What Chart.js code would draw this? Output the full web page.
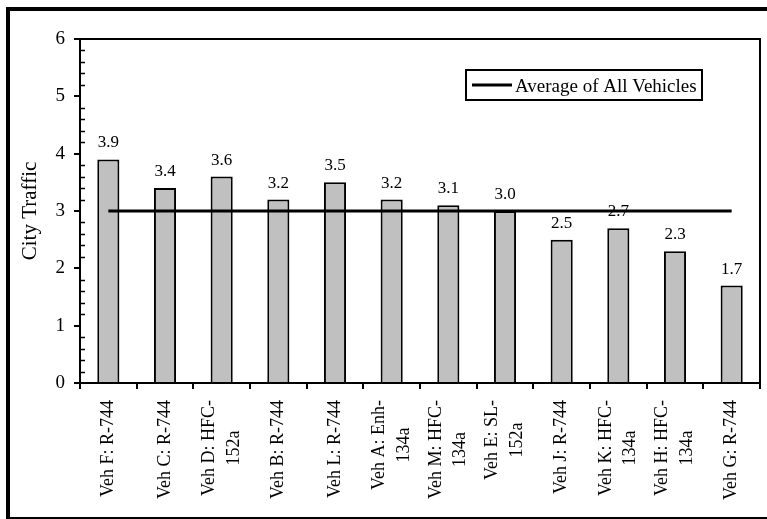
<!DOCTYPE html>
<html>
<head>
<meta charset="utf-8">
<title>City Traffic</title>
<script src="https://cdn.jsdelivr.net/npm/chart.js@4.4.1/dist/chart.umd.min.js"></script>
<style>
    html, body { margin: 0; padding: 0; background: #fff; overflow: hidden; }
    #wrap { position: relative; width: 767px; height: 519px; }
    #frame { position: absolute; left: 6px; top: 7px; width: 800px; height: 506px;
             border-left: 4px solid #000; border-top: 4px solid #000; border-bottom: 2px solid #000; }
    #chart { position: absolute; left: 0; top: 0; }
</style>
</head>
<body>
<div id="wrap">
    <div id="frame"></div>
    <canvas id="chart" width="767" height="519"></canvas>
</div>
<script>
var serif = "'Liberation Serif', 'Times New Roman', serif";

var vehicleLabels = [
    ['Veh F: R-744'],
    ['Veh C: R-744'],
    ['Veh D: HFC-', '152a'],
    ['Veh B: R-744'],
    ['Veh L: R-744'],
    ['Veh A: Enh-', '134a'],
    ['Veh M: HFC-', '134a'],
    ['Veh E: SL-', '152a'],
    ['Veh J: R-744'],
    ['Veh K: HFC-', '134a'],
    ['Veh H: HFC-', '134a'],
    ['Veh G: R-744']
];
var cityTraffic = [3.9, 3.4, 3.6, 3.2, 3.5, 3.2, 3.1, 3.0, 2.5, 2.7, 2.3, 1.7];
var allVehicleAverage = [3, 3, 3, 3, 3, 3, 3, 3, 3, 3, 3, 3];
var yMin = 0, yMax = 6, yStep = 1;
var yTitle = 'City Traffic';
var averageLabel = 'Average of All Vehicles';

var chartExtras = {
    id: 'chartExtras',
    afterDatasetDraw: function (chart, args) {
        if (args.index !== 1) return;
        var ctx = chart.ctx;
        ctx.save();
        ctx.font = '17px ' + serif;
        ctx.fillStyle = '#000';
        ctx.textAlign = 'center';
        ctx.textBaseline = 'alphabetic';
        args.meta.data.forEach(function (bar, i) {
            ctx.fillText(cityTraffic[i].toFixed(1), bar.x, bar.y - 12);
        });
        ctx.restore();
    },
    afterDraw: function (chart) {
        var ctx = chart.ctx;
        var area = chart.chartArea;
        var xs = chart.scales.x, ys = chart.scales.y;
        ctx.save();
        ctx.strokeStyle = '#000';
        ctx.fillStyle = '#000';

        // top + right side of plot box
        ctx.lineWidth = 2;
        ctx.beginPath();
        ctx.moveTo(area.left - 1, area.top);
        ctx.lineTo(area.right, area.top);
        ctx.lineTo(area.right, area.bottom);
        ctx.stroke();

        // minor ticks on the inside of the y axis
        ctx.lineWidth = 1.5;
        ctx.beginPath();
        for (var k = 1; k < (yMax - yMin) * 5; k++) {
            if (k % 5 === 0) continue;
            var py = Math.round(ys.getPixelForValue(yMin + k / 5)) + 0.5;
            ctx.moveTo(area.left, py);
            ctx.lineTo(area.left + 5, py);
        }
        ctx.stroke();

        // rotated category labels, lines centred on each other
        ctx.font = '18px ' + serif;
        ctx.textAlign = 'center';
        ctx.textBaseline = 'middle';
        chart.data.labels.forEach(function (lab, i) {
            var lines = [].concat(lab);
            var w = Math.max.apply(null, lines.map(function (l) { return ctx.measureText(l).width; }));
            ctx.save();
            ctx.translate(xs.getPixelForValue(i), area.bottom + 17);
            ctx.rotate(-Math.PI / 2);
            lines.forEach(function (l, j) {
                ctx.fillText(l, -w / 2, (j - (lines.length - 1) / 2) * 24.5);
            });
            ctx.restore();
        });

        // legend box
        var avg = chart.data.datasets[0];
        var lx = area.right - 294, ly = area.top + 31;
        ctx.lineWidth = 2;
        ctx.strokeRect(lx, ly, 236, 30);
        ctx.lineWidth = avg.borderWidth;
        ctx.beginPath();
        ctx.moveTo(lx + 6, ly + 15);
        ctx.lineTo(lx + 46, ly + 15);
        ctx.stroke();
        ctx.font = '19px ' + serif;
        ctx.textAlign = 'left';
        ctx.textBaseline = 'alphabetic';
        ctx.fillText(avg.label, lx + 49, ly + 22);
        ctx.restore();
    }
};

var chart = new Chart(document.getElementById('chart'), {
    type: 'bar',
    data: {
        labels: vehicleLabels,
        datasets: [{
            type: 'line',
            label: averageLabel,
            data: allVehicleAverage,
            borderColor: '#000',
            borderWidth: 3,
            pointRadius: 0,
            fill: false,
            order: 0
        }, {
            type: 'bar',
            label: yTitle,
            data: cityTraffic,
            backgroundColor: '#c0c0c0',
            borderColor: '#000',
            borderWidth: 2,
            barPercentage: 0.39,
            categoryPercentage: 1.0,
            order: 1
        }]
    },
    options: {
        responsive: false,
        devicePixelRatio: 1,
        animation: false,
        events: [],
        layout: {
            padding: { left: 18, top: 39, right: 7, bottom: 130 }
        },
        plugins: {
            legend: { display: false },
            tooltip: { enabled: false }
        },
        scales: {
            x: {
                grid: { offset: true, drawOnChartArea: false, tickLength: 6, color: '#000', lineWidth: 2 },
                border: { display: true, color: '#000', width: 2 },
                ticks: { display: false }
            },
            y: {
                min: yMin,
                max: yMax,
                ticks: { stepSize: yStep, padding: 9, color: '#000', font: { family: serif, size: 19 } },
                grid: { drawOnChartArea: false, tickLength: 6, color: '#000', lineWidth: 2 },
                border: { display: true, color: '#000', width: 2 },
                title: {
                    display: true,
                    text: yTitle,
                    color: '#000',
                    font: { family: serif, size: 21 },
                    padding: { top: 0, bottom: 0 }
                },
                afterFit: function (scale) {
                    scale.width = 62;
                }
            }
        }
    },
    plugins: [chartExtras]
});
</script>
</body>
</html>
